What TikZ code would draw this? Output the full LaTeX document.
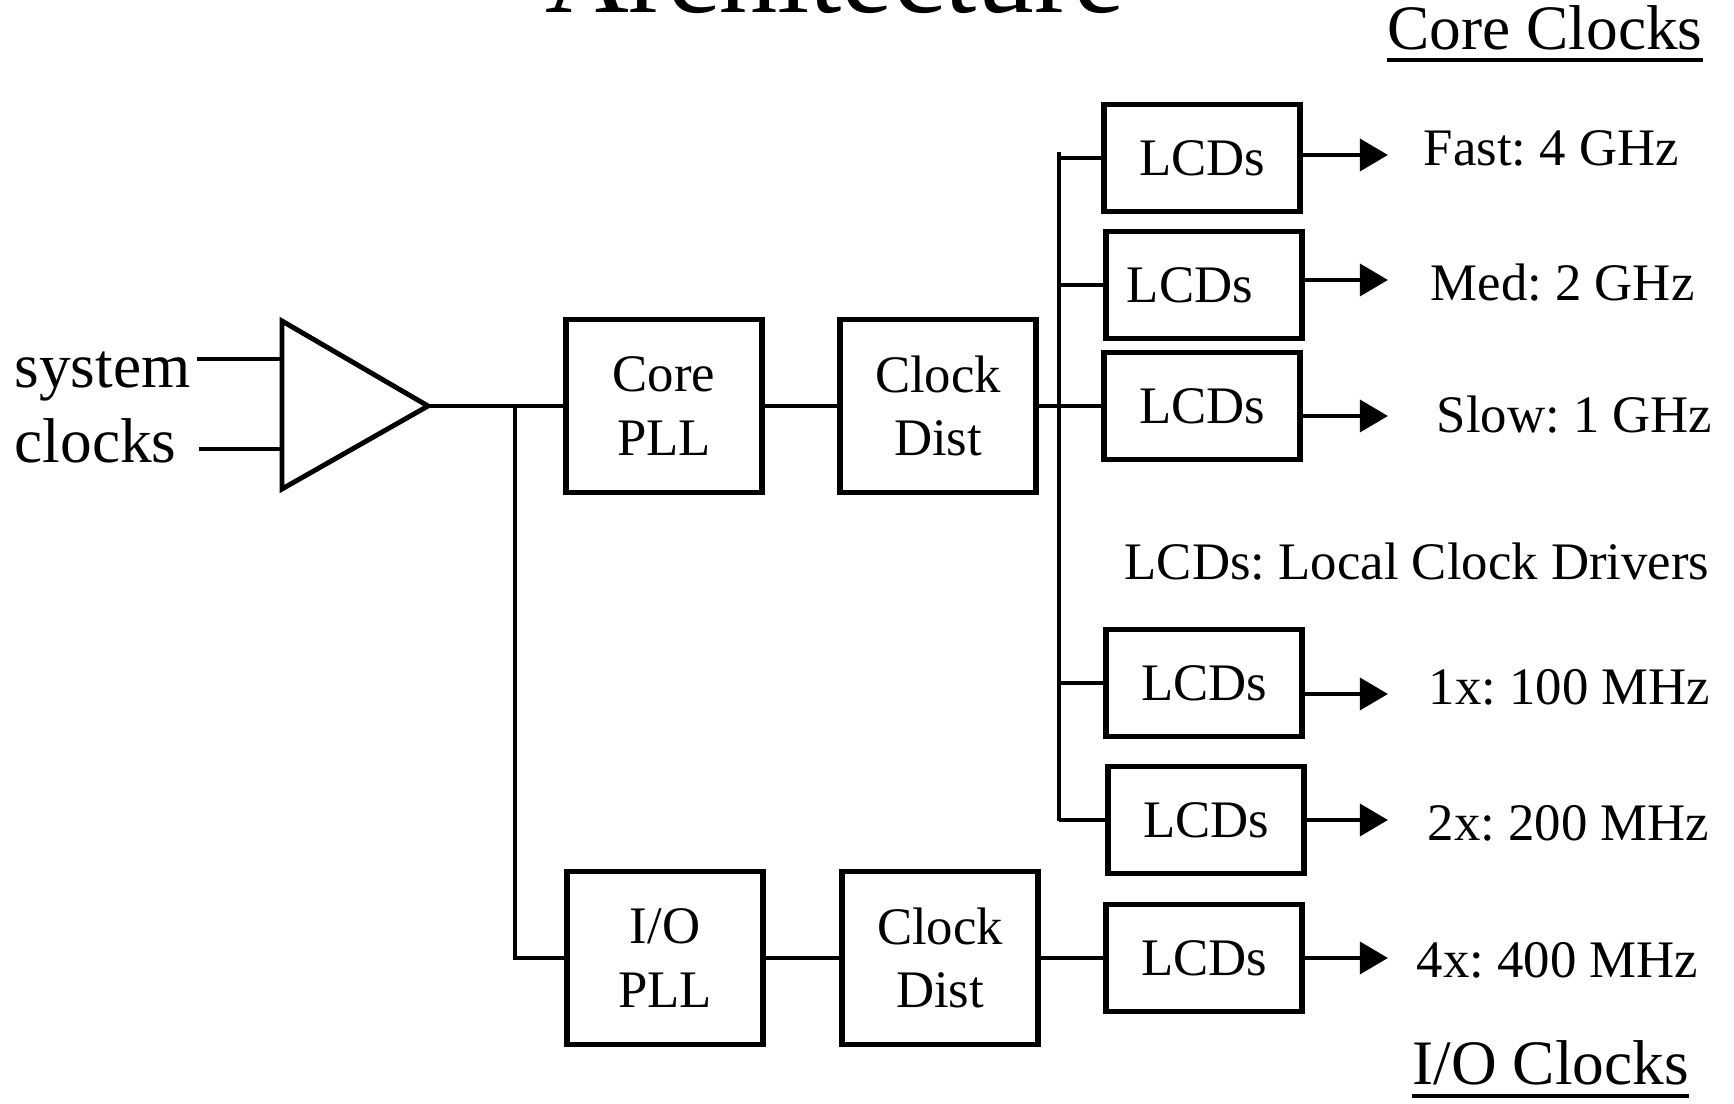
\documentclass[tikz,border=0pt]{standalone}
\usepackage{fontspec}
\setmainfont{Liberation Serif}
\frenchspacing
\usetikzlibrary{arrows.meta,calc}
\tikzset{
  wire/.style={line width=1.4pt},
  blk/.style={draw, line width=1.5pt, minimum width=1.96cm, minimum height=1.73cm,
    inner sep=0pt, align=center, font=\fontsize{15}{18}\selectfont},
  lcd/.style={blk, minimum height=1.07cm},
  lbl/.style={inner sep=0pt, anchor=base west, font=\fontsize{15}{18}\selectfont},
  hdr/.style={lbl, font=\fontsize{18}{21}\selectfont},
  outarrow/.style={wire, -{Triangle[length=8pt,width=9pt]}}
}
\begin{document}
\begin{tikzpicture}[x=0.01cm, y=-0.01cm]
  \useasboundingbox (0,0) rectangle (1734,1104);

  \node[inner sep=0pt, anchor=base, font=\fontsize{33}{40}\selectfont] (title) at (835,13) {Architecture};

  % input buffer
  \coordinate (bufa) at (282,321);
  \coordinate (bufb) at (282,489);
  \coordinate (buftip) at (428,406);
  \draw[wire] (bufa) -- (buftip) -- (bufb) -- cycle;
  \node[hdr] (sys) at (14,388) {system};
  \node[hdr] (clks) at (14,463) {clocks};
  \coordinate (in1) at (197,359);
  \coordinate (in2) at (199,449);
  \draw[wire] (in1) -- (in1 -| bufa);
  \draw[wire] (in2) -- (in2 -| bufa);

  % PLLs and distribution
  \node[blk] (corepll) at (664,406) {Core\\PLL};
  \node[blk] (coredist) at (938,406) {Clock\\Dist};
  \node[blk] (iopll) at (665,958) {I/O\\PLL};
  \node[blk] (iodist) at (940,958) {Clock\\Dist};
  \coordinate (tap) at (515,406);
  \draw[wire] (buftip) -- (corepll.west);
  \draw[wire] (tap) |- (iopll.west);
  \draw[wire] (corepll) -- (coredist);
  \draw[wire] (iopll) -- (iodist);

  % local clock drivers
  \node[lcd] (lcdfast) at (1202,158) {LCDs};
  \node[lcd] (lcdmed) at (1204,285) {LCDs\hspace{8pt}};
  \node[lcd] (lcdslow) at (1202,406) {LCDs};
  \node[lcd] (lcdone) at (1204,683) {LCDs};
  \node[lcd] (lcdtwo) at (1206,820) {LCDs};
  \node[lcd] (lcdfour) at (1204,958) {LCDs};

  \coordinate (bustop) at (1059,152);
  \coordinate (busbot) at (1059,821);
  \draw[wire] (bustop) -- (busbot);
  \foreach \b in {lcdfast,lcdmed,lcdone,lcdtwo}
    \draw[wire] (\b.west -| bustop) -- (\b.west);
  \draw[wire] (coredist.east) -- (lcdslow.west);
  \draw[wire] (iodist.east) -- (lcdfour.west);

  \coordinate (arrend) at (1388,0);
  \foreach \b/\d in {lcdfast/-3,lcdmed/-5,lcdslow/10,lcdone/11,lcdtwo/0,lcdfour/0}
    \draw[outarrow] ($(\b.east)+(0,\d)$) -- ($(\b.east -| arrend)+(0,\d)$);

  % output labels
  \node[lbl] (ffast) at (1423,166) {Fast: 4 GHz};
  \node[lbl] (fmed) at (1430,301) {Med: 2 GHz};
  \node[lbl] (fslow) at (1436,433) {Slow: 1 GHz};
  \node[lbl] (legend) at (1124,580) {LCDs: Local Clock Drivers};
  \node[lbl] (fone) at (1428,705) {1x: 100 MHz};
  \node[lbl] (ftwo) at (1427,840) {2x: 200 MHz};
  \node[lbl] (ffour) at (1416,977) {4x: 400 MHz};

  \node[hdr] (coreclk) at (1387,50) {Core Clocks};
  \node[hdr] (ioclk) at (1412,1084) {I/O Clocks};
  \draw[wire] ($(coreclk.base west)+(0,10)$) -- ($(coreclk.base east)+(0,10)$);
  \draw[wire] ($(ioclk.base west)+(0,12)$) -- ($(ioclk.base east)+(0,12)$);
\end{tikzpicture}
\end{document}
